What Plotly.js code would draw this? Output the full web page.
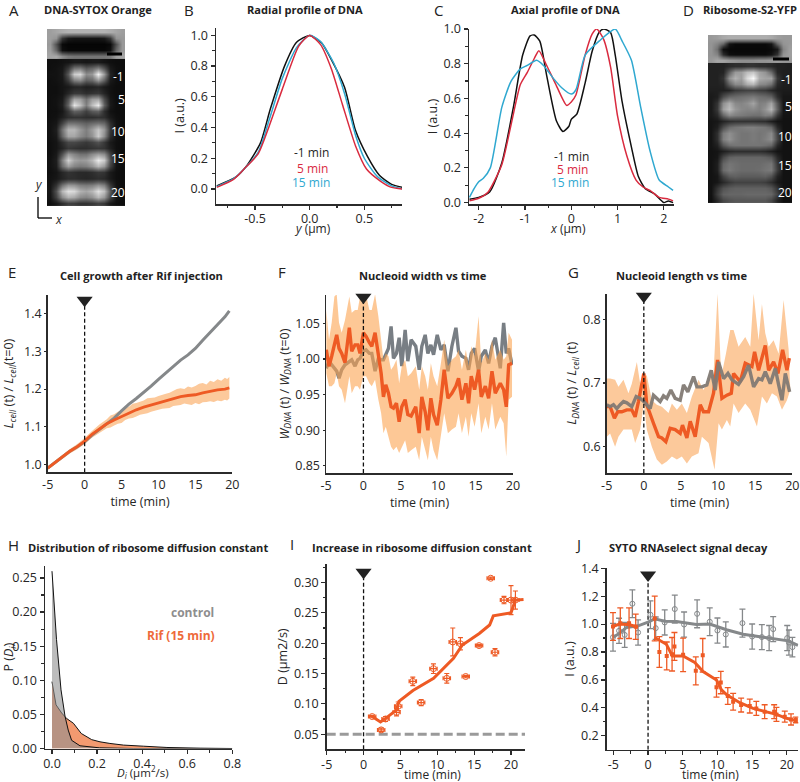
<!DOCTYPE html>
<html><head><meta charset="utf-8">
<script src="https://cdn.plot.ly/plotly-3.0.1.min.js"></script>
<style>html,body{margin:0;padding:0;background:#fff}#g{width:800px;height:782px}</style>
</head><body><div id="g"></div>
<script>
// ---------- Panel A micrograph (grey levels 0-100) ----------
const aPhase=[
[62,65,68,70,70,70,70,70,70,70,68,65,62],
[62,58,22,10,8,8,8,8,8,10,22,58,60],
[60,32,4,2,2,2,2,2,2,2,4,32,60],
[62,40,6,3,3,3,3,3,3,3,6,40,60],
[65,66,55,48,46,46,46,46,46,46,48,62,65]];
const aFluor=[
[6,6,7,8,10,10,9,10,10,8,6,5,5],
[6,7,9,22,45,48,35,40,50,32,10,6,5],
[7,7,10,35,80,85,55,60,95,60,14,6,5],
[6,7,9,24,50,55,38,42,60,38,10,6,5],
[6,6,8,10,14,15,12,13,15,10,7,5,5],
[6,6,8,15,22,22,18,20,22,14,7,5,5],
[6,7,10,32,65,62,45,62,65,30,9,5,5],
[6,7,12,40,90,75,50,75,92,38,10,5,5],
[6,6,9,22,38,35,25,35,38,18,7,5,5],
[6,7,12,18,20,20,18,18,20,18,10,6,5],
[7,9,26,45,45,42,38,42,45,40,18,7,5],
[7,12,45,72,72,60,50,62,78,60,22,7,5],
[7,10,40,65,65,55,48,58,80,55,18,7,5],
[6,8,18,28,28,25,22,26,32,22,10,6,5],
[6,8,14,22,20,18,18,20,22,20,12,6,5],
[6,10,32,60,52,45,45,55,62,55,25,7,5],
[7,12,50,82,65,60,62,72,92,80,32,8,5],
[7,11,42,62,52,48,50,58,72,60,26,7,5],
[6,8,15,20,18,16,16,18,22,20,10,6,5],
[7,9,14,18,18,16,15,16,18,16,10,6,5],
[8,20,45,60,58,50,48,50,58,50,22,7,5],
[9,32,72,88,85,70,65,72,88,75,35,8,5],
[8,26,55,70,66,55,52,58,72,60,28,8,5],
[6,10,18,25,24,20,20,22,26,22,10,6,5]];
// ---------- Panel D micrograph ----------
const dPhase=[
[60,62,66,68,68,68,68,68,68,68,66,62,60,60],
[58,52,40,8,4,4,4,4,4,4,8,40,58,60],
[58,44,6,3,3,3,3,3,3,3,4,10,52,62],
[58,52,18,6,5,5,5,5,5,5,8,20,58,62],
[60,65,64,60,58,56,56,56,58,58,60,62,60,60]];
const dFluor=[
[13,13,13,16,18,18,20,20,18,18,16,13,13,12],
[13,13,14,38,60,62,74,78,64,58,42,15,12,12],
[13,13,20,56,70,62,86,98,68,64,64,22,12,12],
[13,13,15,38,54,54,68,72,54,52,44,16,12,12],
[12,12,12,14,22,24,26,26,24,22,16,12,11,11],
[10,12,30,40,42,44,46,48,44,42,38,18,9,9],
[10,20,56,68,54,52,56,64,50,52,64,34,9,9],
[10,22,62,74,60,54,52,54,50,58,72,38,9,9],
[10,16,40,54,50,48,46,44,44,50,48,22,8,8],
[8,9,14,18,20,20,20,20,19,18,12,8,7,7],
[8,12,30,42,46,48,50,50,48,46,40,16,7,7],
[8,18,48,56,50,46,46,48,46,48,54,26,7,7],
[8,18,50,58,50,46,46,48,46,50,56,28,7,7],
[8,13,34,44,46,46,46,46,46,44,40,16,7,7],
[7,8,12,16,18,18,18,18,18,16,12,8,7,7],
[7,9,28,38,40,40,40,40,40,38,34,16,7,7],
[7,12,40,46,44,42,42,42,42,44,46,22,7,7],
[7,12,42,48,44,42,42,42,43,46,48,24,7,7],
[7,9,26,36,38,36,36,36,36,38,32,14,7,7],
[7,9,16,22,26,26,26,26,26,24,18,10,7,7],
[7,20,32,36,38,38,38,38,38,38,34,20,7,7],
[7,24,38,40,40,40,41,41,41,41,40,26,7,7],
[6,16,28,32,34,34,34,34,34,34,28,14,6,6]];
const aLabels=["-1","5","10","15","20"];
// ---------- Panel B ----------
const bBlackX=[-.85,-.67,-.57,-.45,-.36,-.23,-.12,0,.11,.2,.32,.42,.53,.64,.75,.85];
const bBlackY=[.02,.08,.157,.30,.52,.80,.955,1,.95,.84,.66,.38,.21,.087,.03,.01];
const bRedX=[-.85,-.7,-.6,-.47,-.37,-.25,-.1,0,.1,.2,.3,.42,.52,.65,.75,.85];
const bRedY=[.01,.06,.13,.23,.41,.65,.93,1,.94,.78,.55,.28,.13,.05,.01,0];
const bBlueX=[-.85,-.7,-.6,-.47,-.37,-.25,-.12,0,.1,.22,.32,.42,.5,.62,.75,.85];
const bBlueY=[.015,.065,.13,.24,.45,.72,.92,1,.96,.82,.62,.35,.2,.08,.02,0];
// ---------- Panel C ----------
const cBlackX=[-2.2,-2,-1.76,-1.5,-1.25,-1.05,-.89,-.8,-.68,-.53,-.32,-.18,-.05,0,.12,.3,.45,.6,.7,.85,.95,1.1,1.3,1.45,1.6,1.8,2,2.1,2.2];
const cBlackY=[.02,.03,.063,.23,.55,.85,.96,.965,.93,.73,.47,.41,.44,.48,.51,.69,.87,.98,1,.98,.85,.58,.32,.15,.08,.05,0,.01,0];
const cRedX=[-2.2,-2,-1.8,-1.5,-1.3,-1.1,-.95,-.8,-.7,-.55,-.35,-.1,0,.1,.3,.45,.55,.7,.85,1,1.2,1.4,1.55,1.7,1.9,2.1,2.2];
const cRedY=[.01,.025,.06,.22,.45,.68,.75,.83,.875,.8,.69,.56,.58,.62,.85,.97,1,.94,.78,.5,.27,.13,.09,.07,.03,.02,.01];
const cBlueX=[-2.2,-2.1,-2,-1.9,-1.75,-1.5,-1.3,-1.1,-.95,-.75,-.6,-.4,-.2,0,.1,.3,.6,.95,1.1,1.3,1.5,1.7,1.9,2.1,2.2];
const cBlueY=[.03,.08,.12,.14,.2,.55,.7,.77,.79,.82,.79,.72,.66,.625,.65,.85,.93,1,.93,.82,.55,.3,.13,.09,.07];
// ---------- Panel E ----------
const eLineT=[-5,-4,-3,-2,-1,0,1,2,3,4,5,6,7,8,9,10,11,12,13,14,15,16,17,18,19,19.6];
const eGrayV=[.99,1.005,1.02,1.035,1.047,1.06,1.078,1.093,1.108,1.123,1.142,1.16,1.175,1.191,1.208,1.226,1.243,1.26,1.277,1.291,1.308,1.33,1.35,1.372,1.392,1.408];
const eOrangeV=[.99,1.005,1.02,1.035,1.047,1.062,1.08,1.095,1.108,1.118,1.127,1.137,1.145,1.152,1.158,1.163,1.168,1.175,1.18,1.183,1.185,1.19,1.195,1.198,1.2,1.203];
const eBandT=[-5,-4,-3,-2,-1,0,1,2,3,3.5,4,4.5,5,5.5,6,6.5,7,7.5,8,8.5,9,9.5,10,10.5,11,11.5,12,12.5,13,13.5,14,14.5,15,15.5,16,16.5,17,17.5,18,18.5,19,19.3,19.6];
const eUpperV=[.995,1.011,1.026,1.041,1.054,1.07,1.089,1.106,1.12,1.13,1.133,1.14,1.143,1.15,1.153,1.161,1.163,1.166,1.17,1.176,1.177,1.178,1.182,1.186,1.188,1.19,1.196,1.2,1.202,1.2,1.207,1.204,1.208,1.214,1.216,1.212,1.222,1.219,1.226,1.222,1.23,1.227,1.232];
const eLowerV=[.985,.999,1.014,1.029,1.04,1.054,1.071,1.084,1.096,1.098,1.103,1.108,1.11,1.118,1.122,1.123,1.127,1.132,1.134,1.136,1.14,1.143,1.145,1.148,1.15,1.15,1.155,1.157,1.158,1.162,1.16,1.158,1.163,1.16,1.165,1.166,1.168,1.166,1.17,1.168,1.172,1.17,1.175];
// ---------- Panel F ----------
const fT=[-4.96,-4.6,-4.24,-3.88,-3.57,-3.26,-2.9,-2.46,-1.88,-1.56,-1.12,-.76,-.45,0,.36,.8,1.12,1.56,2,2.37,2.68,2.99,3.35,3.7,4.02,4.42,4.78,5.13,5.58,5.94,6.38,7,7.46,7.81,8.26,8.62,9.02,9.38,9.87,10.36,10.8,11.3,11.83,12.37,12.72,13.17,13.7,14.06,14.42,14.87,15.4,15.76,16.3,16.74,17.19,17.63,18.3,18.75,19.1,19.42,19.87];
const fOrange=[1.013,.99,1.004,1.02,1.034,1.015,1.008,.995,1.044,1.011,1.02,1.02,1.008,1.037,1.032,1.023,1.018,1.037,1.004,.98,.947,.964,.952,.933,.931,.938,.912,.933,.943,.922,.92,.933,.896,.947,.926,.9,.945,.922,.907,.943,.985,.945,.952,.962,.973,.943,.966,.938,.976,.957,.985,.947,.962,.945,.983,.952,.966,.957,.933,.992,.994];
const fGray=[.987,.997,.992,.987,.983,.973,.985,.992,.997,.999,.99,.999,1.001,1.011,1.013,1.008,1.008,.983,1.001,.999,.999,1.008,1.015,1.046,1.001,1.008,1.03,.99,1.041,.997,1.027,1.018,.985,1.018,1.034,1.008,1.02,1.006,1.034,1.013,1.02,.983,1.018,1.044,1.011,1.004,1.001,.985,1.008,1.015,.983,1.004,1.013,.994,1.018,1.03,.987,1.051,1.008,1.015,.992];
const fUpper=[1.069,1.027,1.051,1.088,1.091,1.051,1.037,1.055,1.088,1.065,1.069,1.069,1.088,1.093,1.09,1.069,1.069,1.091,1.06,1.027,.999,1.008,1.004,.985,.99,.999,.966,.99,.999,.976,.98,.99,.957,.99,.976,.957,.994,.976,.962,.994,1.027,.99,.999,1.004,1.013,.985,1.013,.99,1.018,1.004,1.06,.994,1.008,.999,1.027,.999,1.013,.999,1.004,1.037,1.027];
const fLower=[.98,.962,.962,.966,.98,.962,.957,.938,.976,.952,.962,.962,.957,.976,.976,.966,.962,.971,.943,.924,.896,.905,.891,.877,.872,.877,.868,.877,.886,.868,.872,.877,.858,.891,.872,.858,.891,.872,.858,.891,.924,.896,.901,.905,.924,.896,.919,.891,.924,.905,.938,.896,.919,.901,.938,.901,.919,.91,.863,.943,.947];
// ---------- Panel G ----------
const gGrayT=[-4.99,-4.54,-4.09,-3.64,-3.19,-2.74,-2.29,-1.62,-1.03,-.49,0,.4,.85,1.3,1.75,2.2,2.65,3.1,3.64,4.22,4.9,5.35,5.93,6.7,7.15,7.82,8.49,9.08,9.62,10.07,10.74,11.33,11.87,12.76,13.44,14.11,14.79,15.46,15.91,16.36,17.03,17.71,18.16,18.61,19.06,19.64];
const gGrayV=[.666,.663,.666,.66,.666,.671,.669,.663,.679,.676,.671,.666,.66,.681,.676,.671,.68,.676,.689,.676,.673,.697,.686,.71,.694,.694,.697,.72,.689,.733,.707,.715,.705,.698,.71,.728,.694,.707,.705,.718,.699,.723,.697,.673,.715,.686];
const gOrangeT=[-4.99,-4.54,-3.96,-3.51,-2.97,-2.29,-1.62,-1.17,-.72,0,.4,.85,1.3,1.98,2.43,2.97,3.55,4.22,4.9,5.21,5.8,6.25,6.92,7.6,8.04,8.72,9.39,9.93,10.52,11.19,11.78,12.09,12.99,13.66,14.56,14.92,15.46,16.36,16.81,17.48,18.07,18.7,19.28,19.6];
const gOrangeV=[.663,.663,.645,.655,.655,.658,.658,.647,.671,.715,.666,.65,.637,.616,.614,.608,.629,.627,.621,.634,.614,.64,.616,.666,.655,.655,.684,.736,.676,.681,.684,.715,.702,.731,.726,.749,.72,.759,.72,.733,.715,.752,.72,.739];
const gUpperT=[-4.99,-4.54,-3.87,-3.42,-2.74,-2.07,-1.62,-.94,-.49,0,.4,1.08,1.75,2.43,3.33,3.78,4.45,5.12,5.8,6.47,7.37,8.04,8.72,9.39,9.93,10.43,11.06,11.64,12.09,12.76,13.66,14.34,14.79,15.46,15.91,16.36,16.81,17.48,18.16,18.83,19.51];
const gUpperV=[.707,.707,.705,.694,.705,.684,.699,.733,.699,.71,.712,.673,.666,.663,.653,.668,.658,.668,.653,.679,.705,.689,.705,.715,.84,.71,.746,.783,.783,.757,.772,.757,.84,.767,.824,.778,.757,.767,.746,.83,.752];
const gLowerT=[-4.99,-4.54,-3.87,-3.42,-2.74,-2.07,-1.62,-1.17,-.49,0,.4,1.08,1.75,2.43,3.1,3.78,4.45,5.12,5.8,6.47,7.37,7.82,8.72,9.53,10.07,10.52,11.19,11.64,12.09,12.76,13.66,14.34,15.24,15.91,16.58,17.26,17.93,18.61,19.28,19.73];
const gLowerV=[.616,.621,.6,.616,.627,.627,.627,.606,.627,.668,.627,.6,.58,.572,.577,.585,.58,.585,.574,.585,.59,.616,.606,.564,.637,.627,.642,.632,.668,.653,.668,.658,.632,.679,.668,.684,.679,.658,.673,.689];
// ---------- Panel H ----------
const hCtrlD=[0,.01,.02,.04,.058,.072,.087,.124,.17,.21,.29,.36,.8];
const hCtrlP=[.26,.21,.16,.086,.047,.027,.012,.004,.0025,.001,.0005,0,0];
const hRifD=[0,.018,.043,.065,.095,.13,.176,.213,.257,.317,.405,.51,.657,.8];
const hRifP=[.098,.064,.052,.044,.037,.022,.013,.0098,.0074,.005,.0034,.0015,.0005,0];
// ---------- Panel I ----------
const iT=[1.17,2.39,2.98,4.47,4.7,6.68,7.81,9.48,11.29,12.1,13.14,13.86,15.67,17.25,17.83,19.05,20,20.6];
const iD=[.079,.057,.075,.086,.096,.137,.102,.158,.142,.202,.199,.145,.196,.307,.185,.271,.271,.271];
const iErrY=[.002,.003,.004,.006,.007,.007,.005,.008,.008,.023,.01,.002,.002,.002,.006,.006,.024,.015];
const iErrX=[.5,.5,.5,.5,.5,.5,.5,.5,.5,.5,.5,.5,.5,.5,.5,.5,.5,.5];
const iLineT=[1.17,2.3,3,4.47,4.8,6.7,9.5,12.2,13.4,15.7,17.1,17.6,20,20.6,21.7];
const iLineD=[.079,.07,.076,.09,.104,.122,.142,.175,.197,.216,.23,.245,.25,.271,.272];
const iBaseT=[-5,21.9], iBaseD=[.05,.05];
// ---------- Panel J ----------
const jGrayT=[-5.05,-4.18,-3.37,-2.26,-1.44,.34,1.1,2.4,3.85,5.19,7.07,8.89,10,11.2,13.6,15,16.4,17.45,18.03,20.05,20.3,20.8];
const jGrayV=[.906,.952,.923,1.146,.94,1.067,.971,1.012,1.108,.997,1.074,1.017,.954,.926,1.007,.911,.907,.9,.964,.9,.868,.835];
const jGrayE=[.1,.09,.09,.1,.09,.1,.08,.09,.1,.09,.1,.1,.09,.09,.1,.09,.09,.09,.09,.09,.09,.07];
const jGrayLineT=[-5.05,-4.09,-3.1,-1.44,0,.96,2.4,4.09,6.97,8.89,11.3,13.7,16.6,18.5,20.2,21.6];
const jGrayLineV=[.906,.935,.976,.988,1.014,1.038,1.021,1.019,.997,1,.96,.928,.906,.892,.88,.847];
const jOrT=[-5.05,-4,-2.74,-1.78,.96,1.63,2.69,3.46,3.8,5.05,6.88,7.88,9.86,10.48,11.49,12.26,13.41,14.66,15.6,16.8,18.17,18.5,19.7,20.6,21.3];
const jOrV=[.983,1.007,1.007,.981,1.04,.8,.772,.784,.84,.78,.665,.777,.547,.581,.485,.444,.42,.413,.396,.372,.372,.353,.337,.317,.313];
const jOrE=[.1,.11,.11,.09,.16,.11,.1,.12,.1,.12,.1,.12,.07,.08,.06,.06,.05,.05,.05,.05,.05,.05,.04,.04,.02];
const jOrLineT=[-5.14,-4.09,-2.64,-1.44,null,.96,2.64,3.5,5.05,6.73,7.93,9.86,10.58,11.39,13.22,15.14,16.83,18.5,19.95,21.4];
const jOrLineV=[.983,1,.995,.978,null,.904,.856,.772,.772,.725,.66,.6,.528,.492,.437,.396,.372,.353,.325,.308];
// ---------- Texts ----------
const panelLetters=["A","B","C","D","E","F","G","H","I","J"];
const panelTitles=["DNA-SYTOX Orange","Radial profile of DNA","Axial profile of DNA","Ribosome-S2-YFP","Cell growth after Rif injection","Nucleoid width vs time","Nucleoid length vs time","Distribution of ribosome diffusion constant","Increase in ribosome diffusion constant","SYTO RNAselect signal decay"];
const legendTexts=["-1 min","5 min","15 min"];

// ---------- Styles ----------
const W=800,H=782;
const FONT='"Open Sans", sans-serif', INK='#262626';
const RED='#d92b3f',BLUE='#2fa8d0',BLK='#111111',OR='#ee5a24',GR='#85888a',BAND='#fcc99b';
const traces=[],annotations=[],shapes=[],layout={};
let axN=0;
function addAxes(box,xr,yr,xo,yo){
  axN++;const n=axN;const xk='xaxis'+(n==1?'':n),yk='yaxis'+(n==1?'':n);
  const base={showgrid:false,zeroline:false,showline:true,linecolor:'#2b2b2b',linewidth:1.5,ticks:'outside',tickcolor:'#2b2b2b',tickwidth:1.2,tickfont:{family:FONT,size:12.5,color:INK},fixedrange:true};
  layout[xk]=Object.assign({},base,{domain:[box[0]/W,box[1]/W],range:xr,anchor:'y'+(n==1?'':n)},xo);
  layout[yk]=Object.assign({},base,{domain:[1-box[3]/H,1-box[2]/H],range:yr,anchor:'x'+(n==1?'':n)},yo);
  return {xaxis:'x'+(n==1?'':n),yaxis:'y'+(n==1?'':n)};
}
function line(a,x,y,c,w,extra){traces.push(Object.assign({type:'scatter',mode:'lines',x,y,line:{color:c,width:w},hoverinfo:'skip'},a,extra||{}));}
function sp(a,x,y,c){line(a,x,y,c,1.5,{line:{color:c,width:1.5,shape:'spline',smoothing:.6}});}
function band(a,xu,yu,xl,yl,c){traces.push(Object.assign({type:'scatter',mode:'lines',x:xu.concat(xl.slice().reverse()),y:yu.concat(yl.slice().reverse()),fill:'toself',fillcolor:c,line:{width:0},hoverinfo:'skip'},a));}
function marker(a,top,bot){
  line(a,[0,0],[bot,top],'#111',1.3,{line:{color:'#111',width:1.3,dash:'4px,2.5px'}});
  traces.push(Object.assign({type:'scatter',mode:'markers',x:[0],y:[top],marker:{symbol:'triangle-down',size:14,color:'#222'},cliponaxis:false,hoverinfo:'skip'},a));
}
function note(text,x,y,o){annotations.push(Object.assign({text,x:x/W,y:1-y/H,xref:'paper',yref:'paper',showarrow:false,xanchor:'center',yanchor:'middle',font:{family:FONT,size:12,color:INK}},o||{}));}
function vals(a,b,s){const o=[];for(let i=0;i<=Math.round((b-a)/s);i++)o.push(+(a+i*s).toFixed(3));return o;}
function heat(a,z,x0,dx,y0,dy){traces.push(Object.assign({type:'heatmap',z,x0,dx,y0,dy,zmin:0,zmax:100,zsmooth:'best',showscale:false,hoverinfo:'skip',colorscale:[[0,'#000'],[1,'#fff']]},a));}
const hide={visible:false};

// Panel A
let a=addAxes([47,125,29,206],[47,125],[206,29],hide,hide);
heat(a,aPhase,50,6,32,6); heat(a,aFluor,50,6,62,6.125);
// Panel D
a=addAxes([708,792,35,203],[708,792],[203,35],hide,hide);
heat(a,dPhase,711,6,37.8,5.6); heat(a,dFluor,711,6,66,6.09);

const xT=(t,tt,mv,sd,ttl,tl)=>{const o={tickmode:'array',tickvals:t,ticktext:tt,ticklen:tl===undefined?4:tl};
  if(mv)o.minor={tickmode:'array',tickvals:mv,ticks:'outside',ticklen:2.5,tickcolor:'#2b2b2b'};
  if(ttl)o.title={text:ttl,standoff:sd,font:{family:FONT,size:12.5,color:INK}};
  return o;};
const lab=(arr,d)=>arr.map(v=>v.toFixed(d));
const tight={ticklabelstandoff:-2};
const snug={ticklabelstandoff:-1};

// Panel B
a=addAxes([216,402,27.7,204],[-.857,.845],[-.098,1.05],
 Object.assign(xT([-.5,0,.5],['-0.5','0.0','0.5'],[-.75,-.25,.25,.75]),tight),
 xT(vals(0,1,.2),lab(vals(0,1,.2),1),vals(.1,.9,.2),3,'I (a.u.)'));
sp(a,bBlackX,bBlackY,BLK);sp(a,bBlueX,bBlueY,BLUE);sp(a,bRedX,bRedY,RED);
// Panel C
a=addAxes([469,674,29,204],[-2.21,2.22],[-.008,1.0],
 Object.assign(xT([-2,-1,0,1,2],['-2','-1','0','1','2'],[-1.5,-.5,.5,1.5]),tight),
 xT(vals(0,1,.2),lab(vals(0,1,.2),1),vals(.1,.9,.2),3,'I (a.u.)'));
sp(a,cBlackX,cBlackY,BLK);sp(a,cRedX,cRedY,RED);sp(a,cBlueX,cBlueY,BLUE);

const tTicks=[-5,0,5,10,15,20],tText=['-5','0','5','10','15','20'];
// Panel E
a=addAxes([47.7,232.3,295,472.3],[-5,20],[.979,1.45],
 xT(tTicks,tText,null,1,'time (min)',0),
 xT([1,1.1,1.2,1.3,1.4],['1.0','1.1','1.2','1.3','1.4'],null,9,'<i>L<sub>cell</sub></i> (t) / <i>L<sub>cell</sub></i>(t=0)',2));
band(a,eBandT,eUpperV,eBandT,eLowerV,BAND);
line(a,eLineT,eGrayV,GR,3);line(a,eLineT,eOrangeV,OR,2.8);
marker(a,1.436,.979);
// Panel F
a=addAxes([326,513,295,473],[-5,20],[.84,1.09],
 xT(tTicks,tText,null,1,'time (min)',0),
 xT([.85,.9,.95,1,1.05],['0.85','0.90','0.95','1.00','1.05'],null,3,'<i>W<sub>DNA</sub></i> (t) / <i>W<sub>DNA</sub></i> (t=0)',2));
line(a,fT,fGray,'#787e84',3.4);
band(a,fT,fUpper,fT,fLower,'rgba(252,163,80,.6)');
line(a,fT,fOrange,OR,3.4);
marker(a,1.087,.84);
// Panel G
a=addAxes([606.7,792.3,293.7,473],[-5,20],[.559,.84],
 xT(tTicks,tText,null,1,'time (min)',0),
 xT([.6,.7,.8],['0.6','0.7','0.8'],null,3,'<i>L<sub>DNA</sub></i> (t) / <i>L<sub>cell</sub></i> (t)',2));
band(a,gUpperT,gUpperV,gLowerT,gLowerV,BAND);
line(a,gOrangeT,gOrangeV,OR,3.4);
line(a,gGrayT,gGrayV,'rgba(130,122,116,.95)',3.4);
marker(a,.836,.559);
// Panel H
a=addAxes([45,232.3,565.7,748.5],[-.031,.8],[0,.268],
 Object.assign(xT(vals(0,.8,.2),lab(vals(0,.8,.2),1),vals(.1,.7,.2)),snug),
 xT(vals(0,.25,.05),lab(vals(0,.25,.05),2),vals(.025,.225,.05),3,'P (<i>D<sub>i</sub></i>)'));
traces.push(Object.assign({type:'scatter',mode:'lines',x:hRifD,y:hRifP,fill:'tozeroy',fillcolor:'#f39a70',line:{color:'#111',width:1},hoverinfo:'skip'},a));
traces.push(Object.assign({type:'scatter',mode:'lines',x:hCtrlD,y:hCtrlP,fill:'tozeroy',fillcolor:'rgba(143,143,143,.6)',line:{color:'#111',width:1},hoverinfo:'skip'},a));
// Panel I
a=addAxes([326.7,525,564.3,749.3],[-5,21.9],[.025,.33],
 Object.assign(xT(tTicks,tText,[-2.5,2.5,7.5,12.5,17.5]),snug),
 xT(vals(.05,.3,.05),lab(vals(.05,.3,.05),2),vals(.075,.325,.05),3,'D (μm2/s)'));
line(a,iBaseT,iBaseD,'#9a9a9a',3,{line:{color:'#9a9a9a',width:3,dash:'9px,4px'}});
marker(a,.317,.025);
line(a,iLineT,iLineD,OR,3);
traces.push(Object.assign({type:'scatter',mode:'markers',x:iT,y:iD,marker:{symbol:'circle-open',size:6,color:OR,line:{width:1,color:OR}},error_y:{type:'data',array:iErrY,color:OR,thickness:1.2,width:2.5},error_x:{type:'data',array:iErrX,color:OR,thickness:1.2,width:2},hoverinfo:'skip'},a));
// Panel J
a=addAxes([606.7,798.3,568.3,749.7],[-5.96,21.65],[.1,1.4],
 Object.assign(xT(tTicks,tText,[-2.5,2.5,7.5,12.5,17.5]),snug),
 xT(vals(.2,1.4,.2),lab(vals(.2,1.4,.2),1),vals(.3,1.3,.2),3,'I (a.u.)'));
marker(a,1.352,.1);
traces.push(Object.assign({type:'scatter',mode:'markers',x:jGrayT,y:jGrayV,marker:{symbol:'circle-open',size:5,color:GR,line:{width:1,color:GR}},error_y:{type:'data',array:jGrayE,color:GR,thickness:1.3,width:3},hoverinfo:'skip'},a));
line(a,jGrayLineT,jGrayLineV,GR,3);
traces.push(Object.assign({type:'scatter',mode:'markers',x:jOrT,y:jOrV,marker:{symbol:'square',size:4,color:OR},error_y:{type:'data',array:jOrE,color:OR,thickness:1.3,width:3},hoverinfo:'skip'},a));
line(a,jOrLineT,jOrLineV,OR,3);

// Titles, letters
const titlePos=[[98,10],[305,10],[565,10],[750,10],[141,275],[423,275],[681,275],[148,547],[422,547],[688,547]];
panelTitles.forEach((t,i)=>note('<b>'+t+'</b>',titlePos[i][0],titlePos[i][1],{font:{family:FONT,size:11.1,color:'#222'}}));
const letterPos=[[14,10],[189,10],[438,10],[688,10],[12,272],[282,272],[573,272],[13,545],[292,544],[578,544]];
panelLetters.forEach((t,i)=>note(t,letterPos[i][0],letterPos[i][1],{font:{family:FONT,size:15,color:'#222'}}));
// x titles set tight under their tick labels
note('<i>y</i> (μm)',312,228,{font:{family:FONT,size:12,color:INK}});
note('<i>x</i> (μm)',568,228,{font:{family:FONT,size:12,color:INK}});
note('<i>D<sub>i</sub></i> (μm<sup>2</sup>/s)',143,772,{font:{family:FONT,size:11.5,color:INK}});
note('time (min)',432,774,{font:{family:FONT,size:12,color:INK}});
note('time (min)',710,774,{font:{family:FONT,size:12,color:INK}});
// Legends in B, C
[[311,153,INK],[312,168,RED],[311,183,BLUE]].forEach((p,i)=>note(legendTexts[i],p[0],p[1],{font:{family:FONT,size:12,color:p[2]}}));
[[571,156,INK],[572,170,RED],[570,183,BLUE]].forEach((p,i)=>note(legendTexts[i],p[0],p[1],{font:{family:FONT,size:12,color:p[2]}}));
// Image labels
[[118,77],[121,99],[118,131],[118,158],[118,192]].forEach((p,i)=>note(aLabels[i],p[0],p[1],{font:{family:FONT,size:12,color:'#fff'}}));
[[786,79],[788,107],[785,137],[785,165],[785,193]].forEach((p,i)=>note(aLabels[i],p[0],p[1],{font:{family:FONT,size:12,color:'#fff'}}));
note('<b>control</b>',192,612,{font:{family:FONT,size:12,color:'#8e8e8e'}});
note('<b>Rif (15 min)</b>',181,635,{font:{family:FONT,size:12,color:'#ee6a3a'}});
note('<i>y</i>',38,184);note('<i>x</i>',59,220);
// Scale bars and the x/y key
const px=(x0,y0,x1,y1,w)=>({type:'line',xref:'paper',yref:'paper',x0:x0/W,x1:x1/W,y0:1-y0/H,y1:1-y1/H,line:{color:'#000',width:w}});
shapes.push(px(107,54,122,54,3),px(773,59,789,59,3),px(38,197,38,218,1.3),px(38,218,52,218,1.3));

Object.assign(layout,{width:W,height:H,margin:{l:0,r:0,t:0,b:0},paper_bgcolor:'#fff',plot_bgcolor:'rgba(0,0,0,0)',showlegend:false,annotations,shapes,font:{family:FONT}});
Plotly.newPlot('g',traces,layout,{staticPlot:true,displayModeBar:false});
</script></body></html>
